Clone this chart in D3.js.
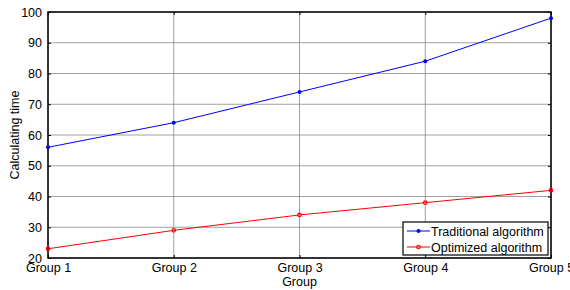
<!DOCTYPE html>
<html>
<head>
<meta charset="utf-8">
<script src="https://cdn.jsdelivr.net/npm/d3@7"></script>
<style>
body { margin: 0; background: #fff; }
text { font-family: "Liberation Sans", Arial, sans-serif; }
</style>
</head>
<body>
<script>
var w = 570;
var h = 290;

var groups = ["Group 1", "Group 2", "Group 3", "Group 4", "Group 5"];
var traditional = [56, 64, 74, 84, 98];
var optimized = [23, 29, 34, 38, 42];
var yTicks = [20, 30, 40, 50, 60, 70, 80, 90, 100];

var m = { left: 48, right: 19, top: 12, bottom: 32 };
var fs = 12.5;

var svg = d3.select("body").append("svg").attr("width", w).attr("height", h);

var x = d3.scalePoint().domain(groups).range([m.left, w - m.right]);
var y = d3.scaleLinear().domain([20, 100]).range([h - m.bottom, m.top]);

// grid
svg.append("g")
  .selectAll("line")
  .data(yTicks)
  .enter()
  .append("line")
  .attr("x1", m.left).attr("x2", w - m.right)
  .attr("y1", function (d) { return y(d); })
  .attr("y2", function (d) { return y(d); })
  .attr("stroke", "#888").attr("stroke-width", 0.8);

svg.append("g")
  .selectAll("line")
  .data(groups)
  .enter()
  .append("line")
  .attr("x1", function (d) { return x(d); })
  .attr("x2", function (d) { return x(d); })
  .attr("y1", m.top).attr("y2", h - m.bottom)
  .attr("stroke", "#888").attr("stroke-width", 0.8);

// axes (inward ticks, MATLAB style)
var yAxis = d3.axisLeft(y).tickValues(yTicks).tickSizeInner(-3).tickSizeOuter(0).tickPadding(6);
var gy = svg.append("g").attr("transform", "translate(" + m.left + ",0)").call(yAxis);
gy.select(".domain").remove();
gy.selectAll("text").attr("font-size", fs).attr("fill", "#000");

var yAxisR = d3.axisRight(y).tickValues(yTicks).tickSizeInner(-3).tickSizeOuter(0).tickFormat("");
var gyr = svg.append("g").attr("transform", "translate(" + (w - m.right) + ",0)").call(yAxisR);
gyr.select(".domain").remove();

var xAxis = d3.axisBottom(x).tickSizeInner(-3).tickSizeOuter(0).tickPadding(5);
var gx = svg.append("g").attr("transform", "translate(0," + (h - m.bottom) + ")").call(xAxis);
gx.select(".domain").remove();
gx.selectAll("text").attr("font-size", fs).attr("fill", "#000");

var xAxisT = d3.axisTop(x).tickSizeInner(-3).tickSizeOuter(0).tickFormat("");
var gxt = svg.append("g").attr("transform", "translate(0," + m.top + ")").call(xAxisT);
gxt.select(".domain").remove();

// frame
svg.append("rect")
  .attr("x", m.left).attr("y", m.top)
  .attr("width", w - m.left - m.right).attr("height", h - m.top - m.bottom)
  .attr("fill", "none").attr("stroke", "#000").attr("stroke-width", 1.5);

svg.append("text")
  .attr("x", (m.left + w - m.right) / 2).attr("y", 286)
  .attr("text-anchor", "middle").attr("font-size", fs)
  .text("Group");

svg.append("text")
  .attr("transform", "translate(19," + ((m.top + h - m.bottom) / 2) + ") rotate(-90)")
  .attr("text-anchor", "middle").attr("font-size", fs)
  .text("Calculating time");

var line = d3.line()
  .x(function (d, i) { return x(groups[i]); })
  .y(function (d) { return y(d); });

svg.append("path").datum(traditional)
  .attr("d", line).attr("fill", "none").attr("stroke", "#0000ff").attr("stroke-width", 1);
svg.append("g").selectAll("circle")
  .data(traditional).enter().append("circle")
  .attr("cx", function (d, i) { return x(groups[i]); })
  .attr("cy", function (d) { return y(d); })
  .attr("r", 2).attr("fill", "#0000ff");

svg.append("path").datum(optimized)
  .attr("d", line).attr("fill", "none").attr("stroke", "#ff0000").attr("stroke-width", 1);
svg.append("g").selectAll("circle")
  .data(optimized).enter().append("circle")
  .attr("cx", function (d, i) { return x(groups[i]); })
  .attr("cy", function (d) { return y(d); })
  .attr("r", 1.8).attr("fill", "none").attr("stroke", "#ff0000").attr("stroke-width", 1.1);

// legend
var lg = svg.append("g").attr("transform", "translate(403,222)");
lg.append("rect").attr("width", 145).attr("height", 33)
  .attr("fill", "#fff").attr("stroke", "#000").attr("stroke-width", 1.2);
var items = [
  { name: "Traditional algorithm", color: "#0000ff", filled: true },
  { name: "Optimized algorithm", color: "#ff0000", filled: false }
];
items.forEach(function (it, i) {
  var yy = 9 + i * 16;
  lg.append("line").attr("x1", 4).attr("x2", 27).attr("y1", yy).attr("y2", yy)
    .attr("stroke", it.color).attr("stroke-width", 1);
  lg.append("circle").attr("cx", 15.5).attr("cy", yy).attr("r", it.filled ? 2 : 1.8)
    .attr("fill", it.filled ? it.color : "none")
    .attr("stroke", it.filled ? "none" : it.color).attr("stroke-width", 1.1);
  lg.append("text").attr("x", 28).attr("y", yy + 4.5)
    .attr("font-size", fs).text(it.name);
});
</script>
</body>
</html>
